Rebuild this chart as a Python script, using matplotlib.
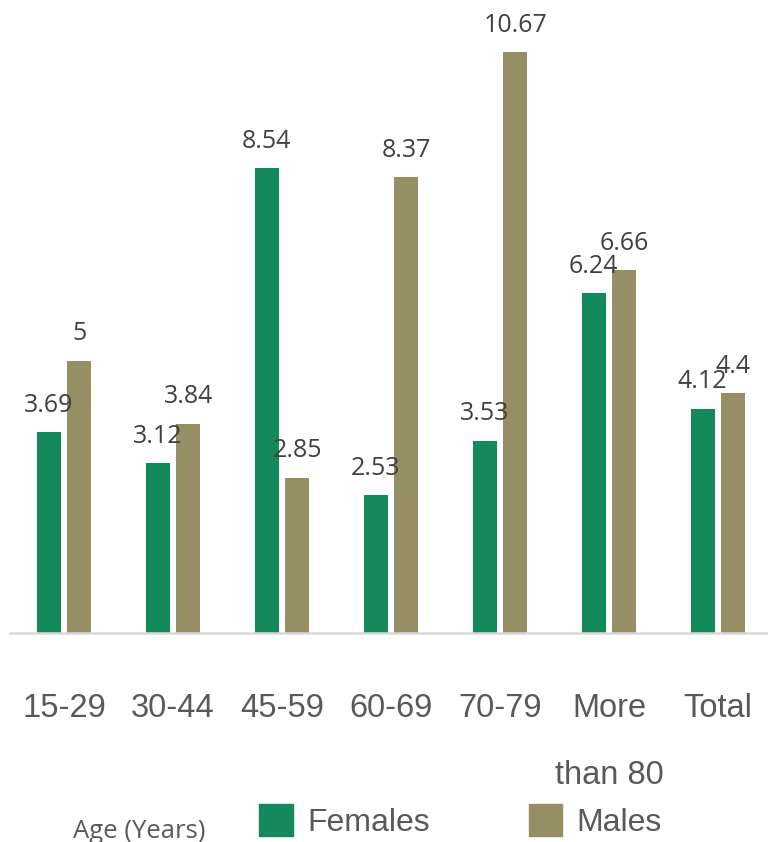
import matplotlib
matplotlib.use("Agg")
import matplotlib.pyplot as plt
from matplotlib.patches import Patch
import numpy as np

categories = ["15-29", "30-44", "45-59", "60-69", "70-79", "More\nthan 80", "Total"]
females = [3.69, 3.12, 8.54, 2.53, 3.53, 6.24, 4.12]
males = [5, 3.84, 2.85, 8.37, 10.67, 6.66, 4.4]
series_names = ["Females", "Males"]
colors = ["#14895C", "#968F66"]

W, H = 768, 842
fig = plt.figure(figsize=(W / 100, H / 100), dpi=100)
base_px = 633
ax = fig.add_axes([9.5 / W, 1 - base_px / H, 763 / W, base_px / H])
ax.set_xlim(-0.5, len(categories) - 0.5)
ax.set_ylim(0, base_px / 54.45)

x = np.arange(len(categories))
bw = 0.22
off = 0.142
for vals, sign, col in [(females, -1, colors[0]), (males, 1, colors[1])]:
    ax.bar(x + sign * off, vals, width=bw, color=col)
    for xi, v in zip(x, vals):
        ax.annotate(f"{v:g}", (xi + sign * off, v), xytext=(0, 19.4),
                    textcoords="offset points", ha="center", va="center",
                    fontsize=18, color="#404040", family="Open Sans")

ax.axhline(0, color="#D9D9D9", lw=1.8, clip_on=False)
for s in ax.spines.values():
    s.set_visible(False)
ax.set_yticks([])
ax.set_xticks(x)
ax.set_xticklabels(categories, fontsize=23.5, color="#595959",
                   family="Liberation Sans",
                   linespacing=2.5, va="top")
ax.tick_params(axis="x", length=0, pad=43)

fig.text(73 / W, 1 - 831 / H, "Age (Years)", fontsize=18.5, color="#595959",
         family="Open Sans", ha="left", va="center")

handles = [Patch(color=c) for c in colors]
fig.legend(handles, series_names, loc="lower left",
           bbox_to_anchor=(259 / W, 4 / H), frameon=False, ncol=2,
           prop={"family": "Liberation Sans", "size": 23},
           labelcolor="#595959", handlelength=1.05, handleheight=1.15,
           handletextpad=0.45, columnspacing=3.1, borderpad=0, borderaxespad=0)

fig.savefig("out.png", dpi=100)
